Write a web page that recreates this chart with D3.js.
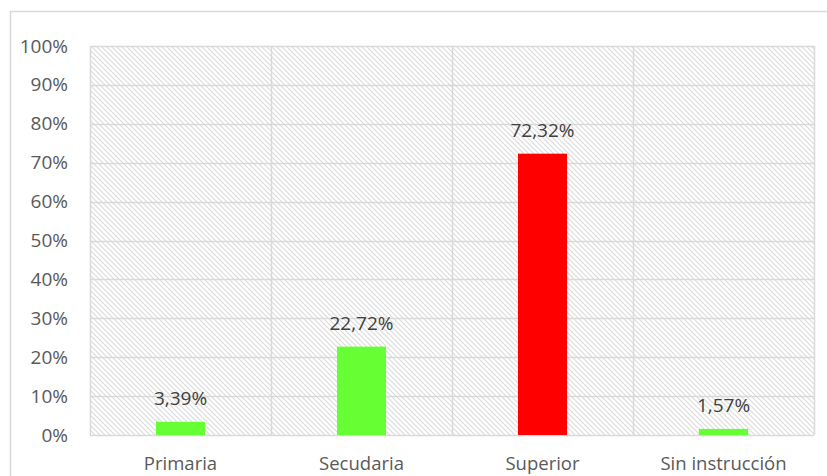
<!DOCTYPE html>
<html><head><meta charset="utf-8">
<script src="https://cdn.jsdelivr.net/npm/d3@7"></script>
<style>body{margin:0;background:#fff}svg{display:block}</style>
</head><body>
<svg id="c" width="827" height="476"></svg>
<script>
const categories = ["Primaria","Secudaria","Superior","Sin instrucción"];
const values = [3.39, 22.72, 72.32, 1.57];
const labels = ["3,39%","22,72%","72,32%","1,57%"];
const barColors = ["#66ff33","#66ff33","#ff0000","#66ff33"];
const yTicks = [0,10,20,30,40,50,60,70,80,90,100];

const svg = d3.select("#c");
const font = "'Open Sans', Carlito, Calibri, sans-serif";
const m = {l:90, r:814, t:46, b:435};

const defs = svg.append("defs");
const pat = defs.append("pattern").attr("id","hatch").attr("patternUnits","userSpaceOnUse")
  .attr("width",5).attr("height",5);
pat.append("rect").attr("width",5).attr("height",5).attr("fill","#fff");
pat.append("path").attr("d","M-1,-1 L6,6 M-1,4 L1,6 M4,-1 L6,1").attr("stroke","#dcdcdc").attr("stroke-width",1.2);

svg.append("rect").attr("x",10.5).attr("y",11.5).attr("width",830).attr("height",480)
  .attr("fill","#fff").attr("stroke","#d9d9d9").attr("stroke-width",1.5);

const x = d3.scaleBand().domain(categories).range([m.l,m.r]).paddingInner(0.729).paddingOuter(0.3645);
const y = d3.scaleLinear().domain([0,100]).range([m.b,m.t]);

svg.append("rect").attr("x",m.l).attr("y",m.t).attr("width",m.r-m.l).attr("height",m.b-m.t).attr("fill","url(#hatch)");

// gridlines
svg.append("g").selectAll("line").data(yTicks).join("line")
  .attr("x1",m.l).attr("x2",m.r).attr("y1",d=>Math.round(y(d))+0.5).attr("y2",d=>Math.round(y(d))+0.5)
  .attr("stroke","#d9d9d9").attr("stroke-width",1.5);
const bounds = categories.map(c=>x(c)-x.step()*x.paddingInner()/2).concat([m.r]);
svg.append("g").selectAll("line").data(bounds).join("line")
  .attr("x1",d=>Math.round(d)+0.5).attr("x2",d=>Math.round(d)+0.5).attr("y1",m.t).attr("y2",m.b)
  .attr("stroke","#d9d9d9").attr("stroke-width",1.5);

// bars
svg.append("g").selectAll("rect").data(values).join("rect")
  .attr("x",(d,i)=>x(categories[i])).attr("width",x.bandwidth())
  .attr("y",d=>y(d)).attr("height",d=>y(0)-y(d)).attr("fill",(d,i)=>barColors[i]);

// data labels
svg.append("g").selectAll("text").data(values).join("text")
  .attr("x",(d,i)=>x(categories[i])+x.bandwidth()/2).attr("y",d=>y(d)-17)
  .attr("text-anchor","middle").attr("font-family",font).attr("font-size",19).attr("fill","#404040")
  .text((d,i)=>labels[i]);

// y axis labels
const yAxis = d3.axisLeft(y).tickValues(yTicks).tickFormat(d=>d+"%").tickSize(0).tickPadding(22);
const ya = svg.append("g").attr("transform",`translate(${m.l},0)`).call(yAxis);
ya.select(".domain").remove();
ya.selectAll("text").attr("font-family",font).attr("font-size",19).attr("fill","#595959");

// x axis labels
const xAxis = d3.axisBottom(x).tickSize(0);
const xa = svg.append("g").attr("transform",`translate(0,${m.b})`).call(xAxis);
xa.select(".domain").remove();
xa.selectAll("text").attr("y",35).attr("dy",0).attr("font-family",font).attr("font-size",18.5).attr("fill","#595959");
</script>
</body></html>
